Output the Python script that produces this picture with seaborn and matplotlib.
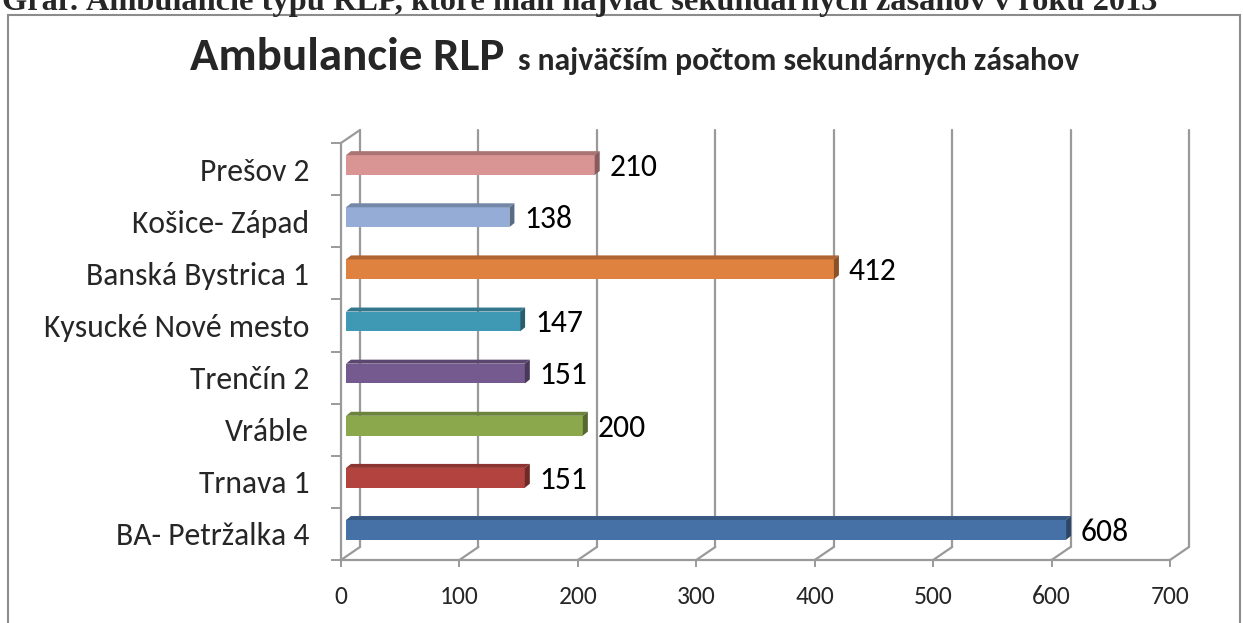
import matplotlib
matplotlib.use("Agg")
import matplotlib.pyplot as plt
import matplotlib.font_manager as fm
from matplotlib.patches import Polygon, Rectangle
from matplotlib.transforms import ScaledTranslation
from matplotlib.colors import to_rgb
import numpy as np
import pandas as pd
import seaborn as sns

# data (top to bottom as in the chart)
stations = ["Prešov 2", "Košice- Západ", "Banská Bystrica 1", "Kysucké Nové mesto",
            "Trenčín 2", "Vráble", "Trnava 1", "BA- Petržalka 4"]
zasahy = [210, 138, 412, 147, 151, 200, 151, 608]
bar_colors = ["#D99594", "#95ADD6", "#E0823F", "#4099B4",
              "#755A8F", "#8BA84D", "#B3433F", "#4571A7"]
x_ticks = [0, 100, 200, 300, 400, 500, 600, 700]

caption = "Graf: Ambulancie typu RLP, ktoré mali najviac sekundárnych zásahov v roku 2013"
title_big = "Ambulancie RLP"
title_small = "s najväčším počtom sekundárnych zásahov"

df = pd.DataFrame({"stanica": stations, "pocet": zasahy})

sns.set_theme(style="white")
names = {f.name for f in fm.fontManager.ttflist}
sans = "Carlito" if "Carlito" in names else "Lato"
plt.rcParams["font.family"] = [sans, "DejaVu Sans"]

W, H = 1243, 623
fig = plt.figure(figsize=(W / 100, H / 100), dpi=100)
ax = fig.add_axes([341 / W, 1 - 560 / H, (1170 - 341) / W, (560 - 143) / H])

sns.barplot(data=df, x="pocet", y="stanica", hue="stanica", order=stations,
            palette=bar_colors, saturation=1, width=0.38, linewidth=0,
            legend=False, ax=ax)
ax.set_xlim(0, 700)
ax.set_ylim(7.5, -0.5)

grid_c = "#9a9a9a"
sx = 829 / 700          # px per unit
sy = 417 / 8            # px per row
DX, DY = 19 / sx, 13 / sy      # wall depth
bdx, bdy = 5 / sx, 4 / sy      # bar depth

def shade(c, f):
    r, g, b = to_rgb(c)
    return (r * f, g * f, b * f)

# pseudo 3d walls
for t in x_ticks:
    ax.plot([t, t + DX], [7.5, 7.5 - DY], color=grid_c, lw=1.6, clip_on=False, zorder=0)
    ax.plot([t + DX, t + DX], [7.5 - DY, -0.5 - DY], color=grid_c, lw=1.6, clip_on=False, zorder=0)
ax.plot([0, DX], [-0.5, -0.5 - DY], color=grid_c, lw=1.6, clip_on=False, zorder=0)

# bars: shift front faces, add top and side faces
shift = ax.transData + ScaledTranslation(5 / 100, 4 / 100, fig.dpi_scale_trans)
for bar, col in zip(ax.patches, bar_colors):
    bar.set_transform(shift)
    x0, x1 = bar.get_x(), bar.get_x() + bar.get_width()
    yt, yb = bar.get_y(), bar.get_y() + bar.get_height()
    top = Polygon([(x0, yt), (x1, yt), (x1 + bdx, yt - bdy), (x0 + bdx, yt - bdy)],
                  closed=True, facecolor=shade(col, 0.78), lw=0, transform=shift)
    side = Polygon([(x1, yt), (x1 + bdx, yt - bdy), (x1 + bdx, yb - bdy), (x1, yb)],
                   closed=True, facecolor=shade(col, 0.62), lw=0, transform=shift)
    ax.add_patch(top)
    ax.add_patch(side)

vals = []
for i, v in enumerate(zasahy):
    vals.append(ax.annotate(str(v), (v, i), xytext=(20 * 0.72, 1.5), textcoords="offset points",
                            ha="left", va="center", fontsize=22, color="black",
                            annotation_clip=False))

for s in ["top", "right"]:
    ax.spines[s].set_visible(False)
for s in ["bottom", "left"]:
    ax.spines[s].set_color(grid_c)
    ax.spines[s].set_linewidth(1.6)

ax.set_xticks(x_ticks)
ax.set_yticks(np.arange(-0.5, 8, 1), minor=True)
ax.tick_params(axis="x", bottom=True, length=5, width=1.4, color=grid_c, pad=13, labelsize=18)
ax.tick_params(axis="y", which="major", left=False, length=0, pad=23, labelsize=22)
ax.tick_params(axis="y", which="minor", left=True, length=7.5, width=1.4, color=grid_c)
ax.set_xlabel("")
ax.set_ylabel("")
ax.grid(False)

# frame and titles
fig.add_artist(Rectangle((8 / W, -0.1), (1240 - 8) / W, 1.1 - 15 / H, transform=fig.transFigure,
                         fill=False, edgecolor="#8c8c8c", lw=1.5))
cap = fig.text(2 / W, 1 - 10 / H, caption, family="Liberation Serif", weight="bold",
               fontsize=23, va="baseline", ha="left")
big = fig.text(190 / W, 1 - 70 / H, title_big, fontsize=32, weight="bold", va="baseline", ha="left")
small = fig.text(518 / W, 1 - 70 / H, title_small, fontsize=22, weight="bold", va="baseline", ha="left")

# size the texts to the widths measured on the original
fig.canvas.draw()
rend = fig.canvas.get_renderer()

def fit(txt, px):
    w = txt.get_window_extent(rend).width
    txt.set_fontsize(txt.get_fontsize() * px / w)
    return txt.get_fontsize()

fit(cap, 1158)
fit(big, 315)
fit(small, 560)
ax.tick_params(axis="y", which="major", labelsize=fit(ax.get_yticklabels()[3], 265))
ax.tick_params(axis="x", labelsize=fit(ax.get_xticklabels()[6], 39))
vsize = fit(vals[7], 48)
for t in vals:
    t.set_fontsize(vsize)

fig.savefig("out.png", dpi=100)
